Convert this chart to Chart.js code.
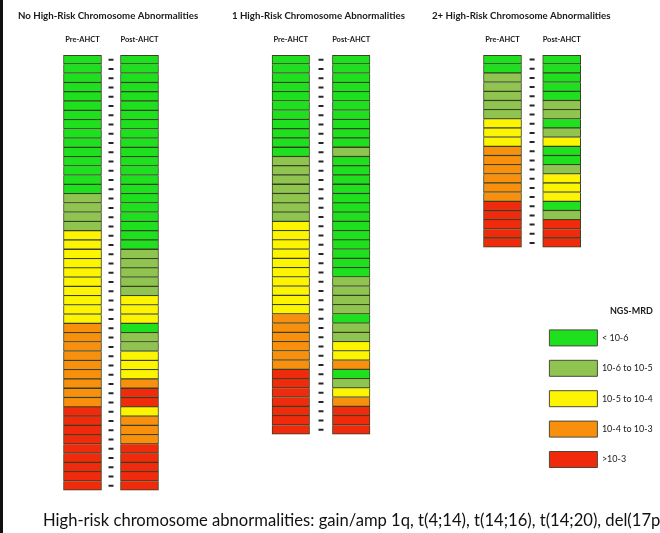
<!DOCTYPE html>
<html>
<head>
<meta charset="utf-8">
<script src="https://cdn.jsdelivr.net/npm/chart.js@4.4.1/dist/chart.umd.min.js"></script>
<style>
  html, body { margin: 0; padding: 0; background: #fff; }
  #page { position: relative; width: 660px; height: 533px; overflow: hidden; background: #fff;
          font-family: Lato, 'Open Sans', sans-serif; }
  #page canvas { position: absolute; }
  #edge { position: absolute; left: 0; top: 0; width: 3px; height: 533px; background: #111; }
  #note { position: absolute; left: 43px; top: 512px; font-size: 16.6px; line-height: 17px;
          white-space: nowrap; color: #111; }
</style>
</head>
<body>
<div id="page">
  <div id="edge"></div>
  <canvas id="panel0"></canvas>
  <canvas id="panel1"></canvas>
  <canvas id="panel2"></canvas>
  <canvas id="key"></canvas>
  <div id="note">High-risk chromosome abnormalities: gain/amp 1q, t(4;14), t(14;16), t(14;20), del(17p)</div>
</div>
<script>
// NGS-MRD levels (index used in the patient arrays below)
const mrdLevels = ['< 10-6', '10-6 to 10-5', '10-5 to 10-4', '10-4 to 10-3', '>10-3'];
const mrdColors = ['#1ee01e', '#90c450', '#fcf400', '#f8900e', '#f02a0c'];

const columnLabels = ['Pre-AHCT', 'Post-AHCT'];
const groupTitles = [
  'No High-Risk Chromosome Abnormalities',
  '1 High-Risk Chromosome Abnormalities',
  '2+ High-Risk Chromosome Abnormalities'
];

// One entry per patient, top to bottom: MRD level before and after AHCT
const noRiskPre = [0,0,0,0,0,0,0,0,0,0,0,0,0,0,0, 1,1,1,1, 2,2,2,2,2,2,2,2,2,2,
                   3,3,3,3,3,3,3,3,3, 4,4,4,4,4,4,4,4,4];
const noRiskPost = [0,0,0,0,0,0,0,0,0,0,0,0,0,0,0,0,0,0,0,0,0, 1,1,1,1,1, 2,2,2, 0, 1,1,
                    2,2,2, 3, 4,4, 2, 3,3,3, 4,4,4,4,4];

const oneRiskPre = [0,0,0,0,0,0,0,0,0,0,0, 1,1,1,1,1,1,1, 2,2,2,2,2,2,2,2,2,2,
                    3,3,3,3,3,3, 4,4,4,4,4,4,4];
const oneRiskPost = [0,0,0,0,0,0,0,0,0,0, 1, 0,0,0,0,0,0,0,0,0,0,0,0,0, 1,1,1,1, 0, 1,1,
                     2,2, 3, 0, 1, 2, 3, 4,4,4];

const twoRiskPre = [0,0, 1,1,1,1,1, 2,2,2, 3,3,3,3,3,3, 4,4,4,4,4];
const twoRiskPost = [0,0,0,0,0, 1,1, 0, 1, 2, 0,0, 1, 2,2,2, 0, 1, 4,4,4];

const panels = [
  { id: 'panel0', title: groupTitles[0], pre: noRiskPre,  post: noRiskPost },
  { id: 'panel1', title: groupTitles[1], pre: oneRiskPre, post: oneRiskPost },
  { id: 'panel2', title: groupTitles[2], pre: twoRiskPre, post: twoRiskPost }
];

// Layout of each panel on the page
const FONT = "Lato, 'Open Sans', sans-serif";
const TOP = 55;            // top of the cell columns
const CELL = 9.32;         // height of one patient row
const TITLE_SIZE = 9.7;
const TITLE_PAD = 10;
const TITLE_H = TITLE_SIZE * 1.2 + TITLE_PAD;
const CELL_EDGE = 'rgba(40,50,14,0.92)';
const panelLayout = [
  { left: 18,  padL: 36,   cat: 57,   padR: 37,   bar: 38 },
  { left: 232, padL: 28.6, cat: 60.4, padR: 30.6, bar: 37.5 },
  { left: 432, padL: 40.9, cat: 59.2, padR: 32.7, bar: 38 }
];

function buildPanel(panel, layout) {
  const n = panel.pre.length;
  const canvas = document.getElementById(panel.id);
  canvas.width = Math.round(layout.padL + 2 * layout.cat + layout.padR);
  canvas.height = Math.ceil(TOP + n * CELL + 1);
  canvas.style.left = layout.left + 'px';
  canvas.style.top = '0px';
  const bottomPad = canvas.height - (TOP + n * CELL);

  const datasets = panel.pre.map((lvl, i) => ({
    type: 'bar',
    data: [1, 1],
    backgroundColor: [mrdColors[lvl], mrdColors[panel.post[i]]],
    borderColor: CELL_EDGE,
    borderWidth: { top: 1.3, bottom: 1.3, left: 1, right: 1 },
    borderSkipped: i === 0 ? false : 'start',
    grouped: false,
    barThickness: layout.bar,
    stack: 'patients'
  }));
  // small dash between the two columns on every patient row
  datasets.push({
    type: 'scatter',
    xAxisID: 'xd',
    yAxisID: 'y',
    stack: 'dashes',
    data: panel.pre.map((_, i) => ({ x: 0.5, y: i + 0.5 })),
    pointStyle: 'line',
    radius: 2.5,
    hoverRadius: 2.5,
    borderWidth: 2,
    borderColor: '#262626'
  });

  new Chart(canvas, {
    type: 'bar',
    data: { labels: columnLabels, datasets },
    options: {
      responsive: false,
      animation: false,
      devicePixelRatio: 1,
      layout: { padding: { top: 0, left: 0, right: 0, bottom: bottomPad } },
      plugins: {
        legend: { display: false },
        tooltip: { enabled: false },
        title: {
          display: true,
          text: panel.title,
          align: 'start',
          color: '#1a1a1a',
          font: { family: FONT, size: TITLE_SIZE, weight: 'bold' },
          padding: { top: TITLE_PAD, bottom: 0 }
        }
      },
      scales: {
        x: {
          type: 'category',
          position: 'top',
          stacked: true,
          offset: true,
          grid: { display: false },
          border: { display: false },
          ticks: { font: { family: FONT, size: 7.5, weight: 'bold' }, color: '#1a1a1a',
                   padding: 3, maxRotation: 0, autoSkip: false },
          afterFit: s => { s.height = TOP - TITLE_H; }
        },
        xd: { type: 'linear', axis: 'x', min: 0, max: 1, display: false },
        y: {
          type: 'linear',
          position: 'left',
          reverse: true,
          stacked: true,
          min: 0,
          max: n,
          grid: { display: false },
          border: { display: false },
          ticks: { display: false },
          afterFit: s => { s.width = layout.padL; }
        },
        yr: {
          type: 'linear',
          position: 'right',
          grid: { display: false },
          border: { display: false },
          ticks: { display: false },
          afterFit: s => { s.width = layout.padR; }
        }
      }
    }
  });
}

panels.forEach((p, i) => buildPanel(p, panelLayout[i]));

// NGS-MRD colour key
const keyCanvas = document.getElementById('key');
keyCanvas.width = 125;
keyCanvas.height = 420;
keyCanvas.style.left = '534.6px';
keyCanvas.style.top = '290px';
new Chart(keyCanvas, {
  type: 'bar',
  data: {
    labels: [],
    datasets: mrdLevels.map((label, i) => ({
      label,
      data: [],
      backgroundColor: mrdColors[i],
      borderColor: '#4a4a3a',
      borderWidth: 1
    }))
  },
  options: {
    responsive: false,
    animation: false,
    devicePixelRatio: 1,
    layout: { padding: 0 },
    scales: { x: { display: false }, y: { display: false } },
    plugins: {
      tooltip: { enabled: false },
      legend: {
        display: true,
        position: 'top',
        align: 'start',
        title: {
          display: true,
          text: 'NGS-MRD',
          position: 'end',
          color: '#1a1a1a',
          font: { family: FONT, size: 9, weight: 'bold', lineHeight: 1 },
          padding: { top: 16.5, bottom: 0 }
        },
        labels: {
          boxWidth: 48,
          boxHeight: 16,
          padding: 14.4,
          color: '#1a1a1a',
          font: { family: FONT, size: 9 }
        }
      }
    }
  }
});
</script>
</body>
</html>
